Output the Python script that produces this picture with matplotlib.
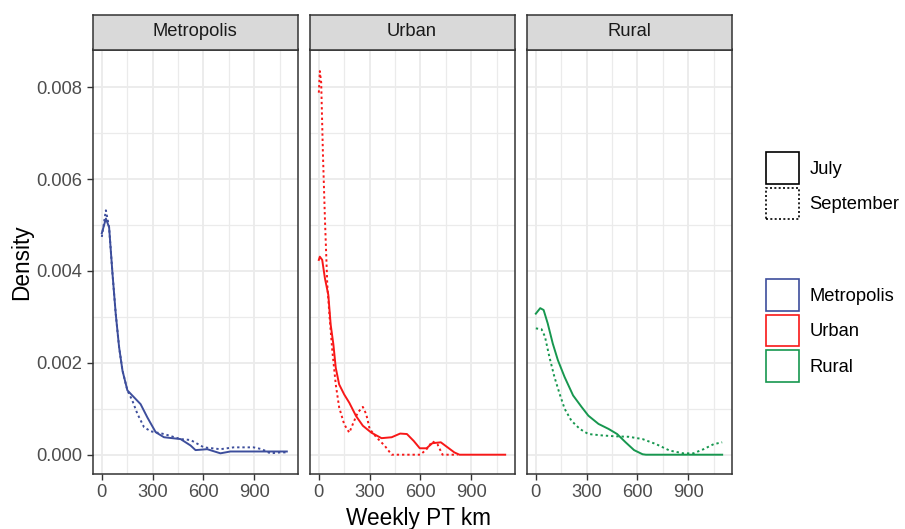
"""
Densidade dos km semanais de transporte público por tipo de região (julho vs setembro).
"""
import matplotlib
matplotlib.use("Agg")
import matplotlib.pyplot as plt
from matplotlib.patches import Patch
from matplotlib.ticker import MultipleLocator

plt.rcParams["font.family"] = ["Liberation Sans", "DejaVu Sans"]

regions = ["Metropolis", "Urban", "Rural"]
colors = {"Metropolis": "#3D4E9C", "Urban": "#F81818", "Rural": "#17974F"}

# Metropolis
metro_jul_x = [0, 24, 43, 63, 82, 102, 122, 151, 190, 229, 269, 318, 367, 465, 524, 553,
               622, 700, 759, 900, 1092]
metro_jul_y = [0.00482, 0.00514, 0.00495, 0.00394, 0.00307, 0.00234, 0.00183, 0.00140,
               0.00125, 0.00110, 0.00081, 0.00049, 0.00038, 0.00034, 0.00020, 0.00010,
               0.00012, 0.00003, 0.00007, 0.00007, 0.00007]
metro_sep_x = [0, 24, 43, 63, 82, 102, 122, 151, 180, 210, 249, 288, 367, 465, 524, 602,
               700, 778, 896, 945, 994, 1053, 1092]
metro_sep_y = [0.00474, 0.00532, 0.00495, 0.00394, 0.00307, 0.00234, 0.00183, 0.00140,
               0.00118, 0.00089, 0.00060, 0.00051, 0.00045, 0.00034, 0.00032, 0.00016,
               0.00012, 0.00016, 0.00016, 0.00012, 0.00003, 0.00005, 0.00005]

# Urban
urban_jul_x = [0, 6, 20, 36, 56, 70, 86, 100, 120, 150, 180, 220, 260, 310, 370, 430, 480,
               520, 560, 596, 636, 670, 720, 760, 800, 830, 1100]
urban_jul_y = [0.00424, 0.00431, 0.00424, 0.00384, 0.00348, 0.00283, 0.00240, 0.00189,
               0.00153, 0.00131, 0.00113, 0.00084, 0.00063, 0.00048, 0.00036, 0.00038,
               0.00046, 0.00045, 0.00030, 0.00014, 0.00014, 0.00025, 0.00027, 0.00016,
               0.00005, 0.0, 0.0]
urban_sep_x = [0, 6, 14, 24, 36, 50, 64, 80, 100, 120, 150, 180, 200, 230, 260, 280, 300,
               340, 390, 430, 600, 636, 670, 700, 730, 820]
urban_sep_y = [0.00788, 0.00835, 0.00810, 0.00658, 0.00514, 0.00370, 0.00297, 0.00225,
               0.00153, 0.00103, 0.00066, 0.00048, 0.00066, 0.00092, 0.00104, 0.00088,
               0.00056, 0.00038, 0.00019, 0.0, 0.0, 0.00012, 0.00029, 0.00023, 0.0, 0.0]

# Rural
rural_jul_x = [0, 26, 46, 70, 100, 130, 170, 220, 270, 310, 370, 430, 480, 530, 580, 630,
               650, 1100]
rural_jul_y = [0.00307, 0.00319, 0.00315, 0.00286, 0.00242, 0.00206, 0.00169, 0.00129,
               0.00104, 0.00085, 0.00067, 0.00056, 0.00045, 0.00027, 0.00010, 0.00001,
               0.0, 0.0]
rural_sep_x = [0, 34, 54, 80, 110, 140, 170, 210, 260, 310, 390, 470, 550, 630, 710, 790,
               870, 930, 990, 1050, 1100]
rural_sep_y = [0.00275, 0.00273, 0.00257, 0.00213, 0.00169, 0.00133, 0.00100, 0.00074,
               0.00056, 0.00045, 0.00042, 0.00040, 0.00039, 0.00034, 0.00023, 0.00009,
               0.00003, 0.00003, 0.00012, 0.00023, 0.00027]

curves = {
    "Metropolis": ((metro_jul_x, metro_jul_y), (metro_sep_x, metro_sep_y)),
    "Urban": ((urban_jul_x, urban_jul_y), (urban_sep_x, urban_sep_y)),
    "Rural": ((rural_jul_x, rural_jul_y), (rural_sep_x, rural_sep_y)),
}

x_ticks = [0, 300, 600, 900]
y_ticks = [0.000, 0.002, 0.004, 0.006, 0.008]

W, H = 905, 529
DOTTED = (0, (1.2, 1.5))
GRID = "#EBEBEB"
DARK = "#333333"
FS = 13.2

fig = plt.figure(figsize=(W / 100, H / 100), dpi=100)

panel_left = [92.5, 309.5, 526.5]
panel_w = 205.0
panel_top, panel_bot = 49.5, 474.0
strip_top = 14.5

for k, reg in enumerate(regions):
    ax = fig.add_axes([panel_left[k] / W, 1 - panel_bot / H,
                       panel_w / W, (panel_bot - panel_top) / H])
    ax.set_xlim(-55, 1155)
    ax.set_ylim(-0.00042, 0.00882)
    ax.xaxis.set_minor_locator(MultipleLocator(150))
    ax.yaxis.set_minor_locator(MultipleLocator(0.001))
    ax.set_xticks(x_ticks)
    ax.set_yticks(y_ticks)
    ax.grid(which="major", color=GRID, lw=1.3)
    ax.grid(which="minor", color=GRID, lw=0.9)
    ax.set_axisbelow(True)
    for s in ax.spines.values():
        s.set_color(DARK)
        s.set_linewidth(1.1)
    ax.tick_params(which="major", length=4.3, width=1.0, color=DARK, pad=3,
                   labelcolor="#4D4D4D", labelsize=FS)
    ax.tick_params(which="minor", length=0)
    ax.set_xticklabels([str(t) for t in x_ticks])
    if k == 0:
        ax.set_yticklabels([f"{t:.3f}" for t in y_ticks])
    else:
        ax.tick_params(axis="y", left=False, labelleft=False)

    (jx, jy), (sx, sy) = curves[reg]
    ax.plot(jx, jy, color=colors[reg], lw=1.4, solid_joinstyle="round")
    ax.plot(sx, sy, color=colors[reg], lw=1.4, linestyle=DOTTED)

    sax = fig.add_axes([panel_left[k] / W, 1 - panel_top / H,
                        panel_w / W, (panel_top - strip_top) / H])
    sax.set_facecolor("#D9D9D9")
    sax.set_xticks([])
    sax.set_yticks([])
    for s in sax.spines.values():
        s.set_color(DARK)
        s.set_linewidth(1.1)
    sax.text(0.5, 0.5, reg, ha="center", va="center", fontsize=FS, color="#1A1A1A")

fig.text(22 / W, 1 - 262 / H, "Density", rotation=90, ha="center", va="center",
         fontsize=16.3)
fig.text(418 / W, 1 - 518 / H, "Weekly PT km", ha="center", va="center", fontsize=16.3)

month_handles = [
    Patch(facecolor="none", edgecolor="black", lw=1.2, label="July"),
    Patch(facecolor="none", edgecolor="black", lw=1.2, linestyle=(0, (1.2, 1.4)),
          label="September"),
]
region_handles = [Patch(facecolor="none", edgecolor=colors[r], lw=1.2, label=r)
                  for r in regions]

leg_kw = dict(frameon=False, fontsize=FS, handlelength=1.78, handleheight=2.3,
              labelspacing=0.2, handletextpad=0.6, borderpad=0, borderaxespad=0,
              loc="upper left")
fig.legend(handles=month_handles, bbox_to_anchor=(766 / W, 1 - 152 / H), **leg_kw)
fig.legend(handles=region_handles, bbox_to_anchor=(766 / W, 1 - 279 / H), **leg_kw)

fig.savefig("out.png", dpi=100)
